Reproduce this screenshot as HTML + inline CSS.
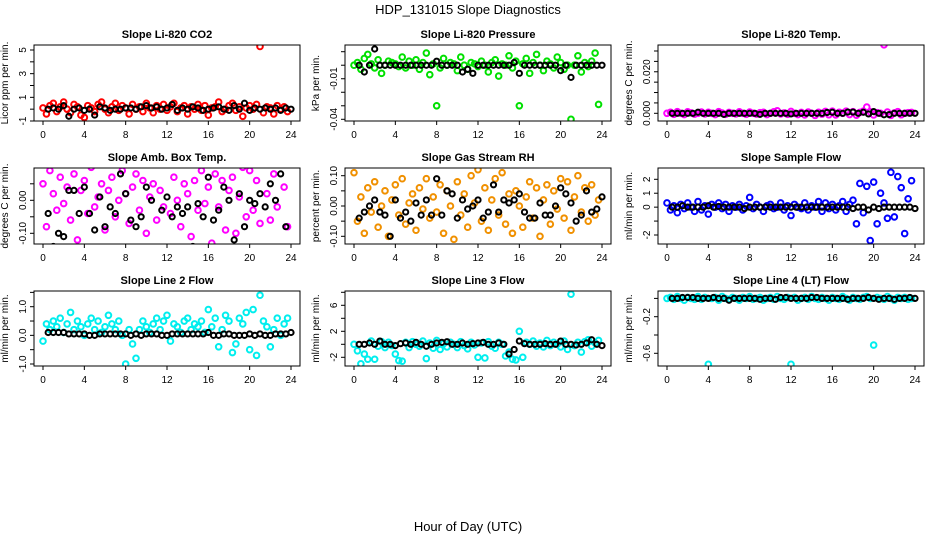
<!DOCTYPE html>
<html><head><meta charset="utf-8"><style>
html,body{margin:0;padding:0;background:#fff;}
svg{display:block;font-family:"Liberation Sans",sans-serif;}
</style></head><body>
<svg id="chart" width="936" height="540" viewBox="0 0 936 540" xmlns="http://www.w3.org/2000/svg">
<rect width="936" height="540" fill="#fff"/>
<text x="468" y="14" text-anchor="middle" font-size="13">HDP_131015  Slope Diagnostics</text>
<text x="468" y="531" text-anchor="middle" font-size="13">Hour of Day (UTC)</text>
</svg>
<script>
const xTicks=[0,4,8,12,16,20,24];
const colorStep=1/3, blackStep=0.5;
const co2Color=[0.1,-0.4,0.3,0.5,-0.2,0.2,0.6,0.0,-0.3,0.4,0.2,-0.5,-0.7,0.3,0.1,-0.2,0.4,0.6,0.0,-0.3,0.2,0.5,-0.1,0.3,0.1,-0.4,0.4,0.0,0.2,-0.2,0.5,0.1,-0.3,0.3,0.0,0.4,-0.1,0.2,0.5,-0.2,0.1,0.3,-0.4,0.2,0.0,0.4,-0.1,0.3,-0.5,0.1,0.2,0.6,-0.2,0.0,0.3,0.5,-0.1,0.2,-0.6,0.1,0.3,0.0,0.4,5.3,-0.3,0.2,0.1,-0.4,0.3,0.0,0.2,-0.2];
const co2Black=[0,0.1,0,0.3,-0.6,0,0.1,-0.1,0,-0.5,0.2,0.1,-0.1,0,0,0.1,0.1,0,0.2,0.3,0.1,0.2,0,0.1,0.4,-0.1,0.1,0,0.2,0.1,-0.1,0,0.1,0.2,0,-0.1,0.3,0,0.5,-0.1,0.1,0,0.1,0,0.1,-0.1,0.1,0];
const presColor=[0,2,-3,5,8,1,-2,4,-6,0,3,2,1,-1,6,-2,3,0,4,-3,2,9,-7,1,-30,-2,5,0,2,1,-4,6,0,-3,2,1,-1,3,0,-5,2,4,-8,1,0,7,-2,3,-30,1,5,-6,2,8,0,-4,3,1,-2,6,2,-3,0,-40,0,7,-5,2,-1,3,9,-29];
const presBlack=[0,-5,0,12,0,0,0,0,0,0,0,0,0,0,0,3,0,0,0,0,-5,-3,-6,0,0,0,0,0,0,0,2,-6,0,0,0,0,0,0,0,-4,0,-9,0,0,0,0,0,0];
const tempColor=[0,0.5,-0.5,0.8,0,-0.6,0.7,0.2,-0.4,0,0.6,-0.3,0.5,0,-0.6,0.8,0.1,-0.5,0.4,0,-0.3,0.7,0,-0.5,0.6,0,-0.4,0.3,0.5,-0.6,0,0.7,1.2,-0.3,0.2,-0.5,0.9,0,-0.6,0.4,-0.8,0.6,0,-1,0.5,-0.4,0.9,-0.7,1,-0.8,0.5,0,1,-0.6,0.8,-0.9,0.4,1,3,0.7,-0.8,0.3,0,33,0.6,-1,0.2,0.8,-0.7,0,0.3,0.4];
const tempBlack=[0,0,0,0,0,0.5,0,0,0,0,-0.5,0,0,0,0,0,0,-0.5,0,0,0,0,0,-0.3,0,0,0,0,0,0,0.4,0.5,0,0,0.6,0.6,0,0.5,-0.3,0.8,0,-0.7,-0.6,0,0,0,0,0];
const ambColor=[5,-8,9,2,-3,7,-1,4,-6,8,-12,3,6,-4,10,-2,1,5,-9,3,7,-5,0,9,2,-7,4,8,-3,6,-10,1,5,-6,3,-2,11,-4,7,0,-8,5,2,-11,6,-3,9,-1,4,-13,8,-2,6,-9,3,7,-10,1,10,-5,9,-3,6,-7,12,2,-6,8,-2,11,4,-8];
const ambBlack=[-4,-14,-10,-11,3,3,-4,4,-4,-9,1,-8,-2,-4,8,2,-6,-8,-5,4,0,13,-3,1,-5,-2,-4,-2,-14,-1,-5,7,-6,-3,4,0,-12,2,-8,0,-1,2,-2,5,0,8,-8,-15];
const rhColor=[11,-5,3,-9,6,-2,8,-7,0,5,-10,2,7,-3,9,-6,1,4,-8,6,-1,9,-4,3,-2,7,-9,5,0,-11,8,-3,4,-7,10,1,12,-5,6,-8,2,9,-3,11,-6,4,-9,5,0,-7,3,8,-4,6,-10,2,7,-6,5,-1,9,-4,8,-8,3,10,-2,6,-5,7,-3,2];
const rhBlack=[-4,-2,0,2,-2,-3,-10,2,-4,-2,-5,1,-3,2,-3,9,-3,5,4,-4,2,-1,0,2,-4,-2,7,-2,2,1,2,4,-2,-4,-4,1,-3,-3,0,6,4,1,-5,-3,5,-2,-1,3];
const flowColor=[0.3,-0.2,0.1,-0.4,0.2,-0.1,0.3,0,-0.3,0.4,-0.2,0.1,-0.5,0.2,0,0.3,-0.1,0.2,-0.3,0.1,0,0.2,-0.2,0.1,0.7,-0.1,0.2,0,-0.3,0.1,0.2,-0.1,0,0.3,-0.2,0.1,-0.6,0.2,0,-0.1,0.3,-0.2,0.1,0,0.4,-0.3,0.3,-0.1,0.2,-0.2,0.1,0.4,-0.3,0.2,0.5,-1.2,1.7,-0.4,1.5,-2.4,1.8,-1.2,1,0.3,-0.8,2.5,-0.7,2.2,1.4,-1.9,0.6,1.9];
const flowBlack=[0,0,0.1,0,0,0,0,0.1,0,0.05,0,0,0,0,-0.1,0,0,0,0,0,0,0,0,0,0,0,0,0,0,0,0,0,0,0,0,-0.1,0,0,-0.2,0,-0.1,0,0,0,0,0,0,-0.1];
const line2Color=[-2,4,2,5,3,6,1,4,8,2,5,3,0,4,6,2,5,1,3,7,4,2,5,0,-10,2,-3,-8,2,5,3,1,4,6,2,5,7,-2,4,3,1,5,6,2,4,3,5,1,9,3,6,-4,2,7,5,-6,-3,6,4,8,-5,9,-7,14,5,3,-4,2,6,0,4,6];
const line2Black=[1,1,1,1,0.5,0.5,0.5,0.5,0,0,0.5,0.5,0.5,0.5,0.5,0.5,0,0.5,0,0.5,0.5,0.5,0,0,0.5,0.5,0.5,0.5,0.5,0.5,0.5,1,0,0,0.5,0.5,0,0,0,0.5,0,0.5,0,0,0.5,0.5,0.5,1];
const line3Color=[0,-1,-3,-1.5,-2.3,0.5,-2.3,-0.3,0.4,-0.5,0.3,-0.2,-1.5,-2.5,-2.6,0.3,-0.5,0.4,0,-0.3,0.5,-2.2,0.2,-0.6,0.6,-0.8,0.1,-0.4,0.3,0,-0.5,0.4,-0.2,-0.7,0.3,-0.1,-2,0.2,-2.1,0.4,-0.3,-0.6,0.3,0,-1.8,-1.2,-2.3,-2.4,2,-2,0.3,0,0.5,-0.3,0.2,-0.4,0.6,-0.2,0.3,0,-0.4,0.5,-0.8,7.7,-0.2,0.3,-1.2,0.4,0.7,-0.3,0.2,0.6];
const line3Black=[0,0,0.2,0,0.5,0,0,-0.2,0.1,0.2,0,0.3,0,-0.3,0,0.2,0.3,0.4,0,0,0.2,0,0.1,0.2,0.3,0,0,0.2,0,-1.5,-0.8,0.5,0.1,0,0,0,0.1,0,0,0.5,0,0,-0.1,0,0.2,0.7,0,-0.2];
const line4Color=[0,1,-1,2,0,-2,1,0,-1,2,-1,1,-72,0,1,-2,2,0,-1,1,0,-2,1,0,2,-1,0,1,-2,0,1,-1,2,0,-1,1,-72,1,-2,0,1,-1,2,0,-1,1,0,-2,1,0,-1,2,0,-2,1,0,-1,1,2,0,-51,1,0,-1,2,0,-2,1,0,1,-1,0];
const line4Black=[0,0,1,1,1,0,0,0,1,0,0,-2,0,0,0,0,0,-1,0,0,-1,1,1,0,0,0,0,1,1,0,0,0,0,0,-1,0,0,0,1,0,-1,0,0,-1,0,0,1,0];

const panels=[
 {name:'li820-co2',title:'Slope Li-820 CO2',ylab:'Licor ppm per min.',col:0,row:0,c:'#ff0000',colored:co2Color,black:co2Black,unit:1,ref:[-1,121,5,50],ticks:[-1,0,1,2,3,4,5],labels:[[-1,'-1'],[1,'1'],[3,'3'],[5,'5']]},
 {name:'li820-pressure',title:'Slope Li-820 Pressure',ylab:'kPa per min.',col:1,row:0,c:'#00e000',colored:presColor,black:presBlack,unit:0.001,ref:[-0.04,119.3,0.01,51.7],ticks:[-0.04,-0.03,-0.02,-0.01,0,0.01],labels:[[-0.01,'-0.01'],[-0.04,'-0.04']]},
 {name:'li820-temp',title:'Slope Li-820 Temp.',ylab:'degrees C per min.',col:2,row:0,c:'#ff00ff',colored:tempColor,black:tempBlack,unit:0.001,ref:[0,113.3,0.03,51],ticks:[0,0.005,0.01,0.015,0.02,0.025,0.03],labels:[[0,'0.000'],[0.02,'0.020']]},
 {name:'amb-box-temp',title:'Slope Amb. Box Temp.',ylab:'degrees C per min.',col:0,row:1,c:'#ff00ff',colored:ambColor,black:ambBlack,unit:0.01,ref:[-0.1,233.3,0,200.3],ticks:[-0.1,-0.05,0,0.05],labels:[[0,'0.00'],[-0.1,'-0.10']]},
 {name:'gas-stream-rh',title:'Slope Gas Stream RH',ylab:'percent per min.',col:1,row:1,c:'#f09000',colored:rhColor,black:rhBlack,unit:0.01,ref:[-0.1,236.3,0.1,175.7],ticks:[-0.1,-0.05,0,0.05,0.1],labels:[[0.1,'0.10'],[0,'0.00'],[-0.1,'-0.10']]},
 {name:'sample-flow',title:'Slope Sample Flow',ylab:'ml/min per min.',col:2,row:1,c:'#0000ff',colored:flowColor,black:flowBlack,unit:1,ref:[-2,235,2,179.3],ticks:[-2,-1,0,1,2],labels:[[2,'2'],[1,'1'],[0,'0'],[-2,'-2']]},
 {name:'line2-flow',title:'Slope Line 2 Flow',ylab:'ml/min per min.',col:0,row:2,c:'#00eeee',colored:line2Color,black:line2Black,unit:0.1,ref:[-1,364,1,306.7],ticks:[-1,-0.5,0,0.5,1,1.5],labels:[[1,'1.0'],[0,'0.0'],[-1,'-1.0']]},
 {name:'line3-flow',title:'Slope Line 3 Flow',ylab:'ml/min per min.',col:1,row:2,c:'#00eeee',colored:line3Color,black:line3Black,unit:1,ref:[-2,357.3,6,305.3],ticks:[-2,0,2,4,6,8],labels:[[6,'6'],[2,'2'],[-2,'-2']]},
 {name:'line4-flow',title:'Slope Line 4 (LT) Flow',ylab:'ml/min per min.',col:2,row:2,c:'#00eeee',colored:line4Color,black:line4Black,unit:0.01,ref:[-0.6,353.3,-0.2,316.7],ticks:[-0.6,-0.4,-0.2,0],labels:[[-0.2,'-0.2'],[-0.6,'-0.6']]}
];
const colX=[34,345,658], rowY=[[45,121],[168,244],[291,366]], W=266;
const NS='http://www.w3.org/2000/svg';
const svg=document.getElementById('chart');
function mk(tag,attrs,parent){const e=document.createElementNS(NS,tag);for(const k in attrs)e.setAttribute(k,attrs[k]);parent.appendChild(e);return e;}
panels.forEach(p=>{
  const x0=colX[p.col], y0=rowY[p.row][0], y1=rowY[p.row][1], x1=x0+W;
  const g=mk('g',{},svg);
  
  
  const xs=h=>x0+9+h*(W-18)/24;
  const [v1,p1,v2,p2]=p.ref;
  const ys=v=>p1+(v-v1)*(p2-p1)/(v2-v1);
  const cp=mk('clipPath',{id:'cp'+p.name},g);
  mk('rect',{x:x0,y:y0,width:W,height:y1-y0},cp);
  const t=mk('text',{x:x0+W/2,y:y0-7,'text-anchor':'middle','font-size':'11','font-weight':'bold'},g);
  t.textContent=p.title;
  
  
  const yl=mk('text',{transform:`translate(${x0-26},${(y0+y1)/2}) rotate(-90)`,'text-anchor':'middle','font-size':'10'},g);
  yl.textContent=p.ylab;
  
  
  const pts=mk('g',{'clip-path':`url(#cp${p.name})`,fill:'none','stroke-width':'2'},g);
  p.colored.forEach((v,i)=>{
    const c=mk('circle',{cx:xs(i*colorStep),cy:ys(v*p.unit),r:2.8,stroke:p.c},pts);
    
    
  });
  p.black.forEach((v,i)=>{
    const c=mk('circle',{cx:xs((i+1)*blackStep),cy:ys(v*p.unit),r:2.6,stroke:'#000'},pts);
    
    
  });
  const box=mk('rect',{x:x0,y:y0,width:W,height:y1-y0,fill:'none',stroke:'#000','stroke-width':'1'},g);
  
  
  xTicks.forEach(h=>{
    mk('line',{x1:xs(h),x2:xs(h),y1:y1,y2:y1+4,stroke:'#000'},g);
    const tl=mk('text',{x:xs(h),y:y1+17,'text-anchor':'middle','font-size':'10'},g);
    tl.textContent=h;
    
    
  });
  p.ticks.forEach(v=>{mk('line',{x1:x0-4,x2:x0,y1:ys(v),y2:ys(v),stroke:'#000'},g);});
  p.labels.forEach(([v,s])=>{
    const tl=mk('text',{transform:`translate(${x0-8},${ys(v)}) rotate(-90)`,'text-anchor':'middle','font-size':'10'},g);
    tl.textContent=s;
    
    
  });
});
</script>
</body></html>
